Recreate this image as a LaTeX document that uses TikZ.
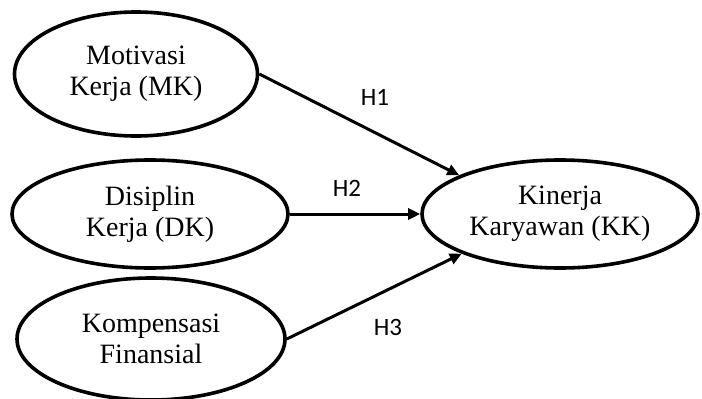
\documentclass[tikz,border=0pt]{standalone}
\usepackage{fontspec}
\setmainfont{Liberation Serif}
\newfontfamily\hfont{Carlito}
\usetikzlibrary{shapes.geometric,arrows.meta}
\begin{document}
\begin{tikzpicture}[x=1pt,y=-1pt,>={Triangle[length=12pt,width=11pt]},
	var/.style={draw,ellipse,line width=3.6pt,align=center,font=\fontsize{28}{31}\selectfont},
	hyp/.style={font=\hfont\fontsize{25}{29}\selectfont},
	path/.style={->,line width=3pt}]
		\useasboundingbox (0,0) rectangle (702,399);
		\node[var,minimum width=243pt,minimum height=124pt] (mk) at (136,74) {Motivasi\\Kerja (MK)};
		\node[var,minimum width=276pt,minimum height=108pt] (dk) at (150,214) {Disiplin\\Kerja (DK)};
		\node[var,minimum width=268pt,minimum height=122pt] (kf) at (151,339) {Kompensasi\\Finansial};
		\node[var,minimum width=276pt,minimum height=108pt] (kk) at (560,214) {Kinerja\\Karyawan (KK)};
		\draw[path] (mk.east)--(kk.159);
		\draw[path] (dk)--(kk);
		\draw[path] (kf.east)--(kk.202);
		\node[hyp] (h1) at (375,97) {H1};
		\node[hyp] (h2) at (347,188) {H2};
		\node[hyp] (h3) at (388,327) {H3};
	\end{tikzpicture}
\end{document}
